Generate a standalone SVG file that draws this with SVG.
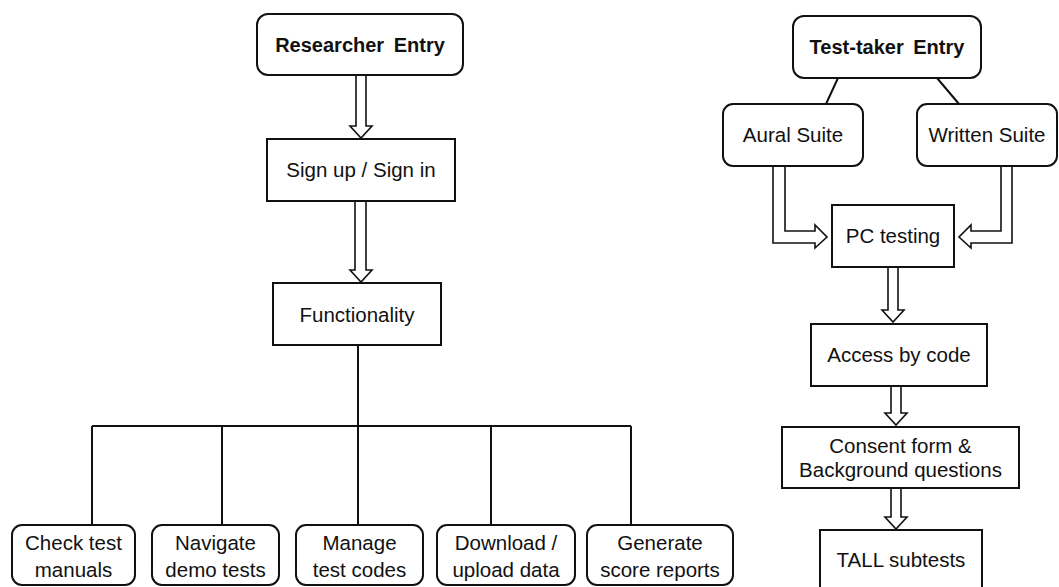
<svg xmlns="http://www.w3.org/2000/svg" width="1059" height="587" viewBox="0 0 1059 587">
<style>
.box{fill:#fff;stroke:#111;stroke-width:2}
.t{font-family:"Liberation Sans",Arial,sans-serif;font-size:20.5px;fill:#111;text-anchor:middle}
.b{font-weight:bold;font-size:20px;word-spacing:4px}
.ln{fill:none;stroke:#111;stroke-width:2}
.ar{fill:#fff;stroke:#111;stroke-width:1.6;stroke-linejoin:miter}
</style>
<rect width="1059" height="587" fill="#fff"/>
<g id="connectors">
<polygon class="ar" points="356,75 356,126 350,126 361,138 372,126 366,126 366,75"/>
<polygon class="ar" points="355,201 355,270 350,270 361,282 372,270 366,270 366,201"/>
<path class="ln" d="M358,345V426M92,426H631M92,426V525M222,426V525M358,426V525M491,426V525M631,426V525"/>
<path class="ln" d="M838,78L826,104M937,78L959,104"/>
<polygon class="ar" points="773,166 773,243 815,243 815,248 827,237 815,225 815,231 785,231 785,166"/>
<polygon class="ar" points="1012,166 1012,243 971,243 971,248 959,237 971,225 971,231 1001,231 1001,166"/>
<polygon class="ar" points="888,267 888,310 882,310 893,322 904,310 898,310 898,267"/>
<polygon class="ar" points="891,386 891,413 885,413 896,425 907,413 901,413 901,386"/>
<polygon class="ar" points="891,488 891,517 885,517 896,529 907,517 901,517 901,488"/>
</g>
<g id="researcher-entry"><rect class="box" x="257" y="14" width="206" height="61" rx="11"/><text class="t b" x="360" y="52">Researcher Entry</text></g>
<g id="sign-up"><rect class="box" x="267" y="139" width="188" height="62"/><text class="t" x="361" y="177">Sign up / Sign in</text></g>
<g id="functionality"><rect class="box" x="273" y="283" width="168" height="62"/><text class="t" x="357" y="322">Functionality</text></g>
<g id="check-manuals"><rect class="box" x="12" y="525" width="123" height="60" rx="10"/><text class="t" x="73.5" y="550">Check test</text><text class="t" x="73.5" y="577">manuals</text></g>
<g id="navigate-demo"><rect class="box" x="152" y="525" width="127" height="60" rx="10"/><text class="t" x="215.5" y="550">Navigate</text><text class="t" x="215.5" y="577">demo tests</text></g>
<g id="manage-codes"><rect class="box" x="296" y="525" width="127" height="60" rx="10"/><text class="t" x="359.5" y="550">Manage</text><text class="t" x="359.5" y="577">test codes</text></g>
<g id="download-upload"><rect class="box" x="437" y="525" width="138" height="60" rx="10"/><text class="t" x="506" y="550">Download /</text><text class="t" x="506" y="577">upload data</text></g>
<g id="generate-reports"><rect class="box" x="587" y="525" width="146" height="60" rx="10"/><text class="t" x="660" y="550">Generate</text><text class="t" x="660" y="577">score reports</text></g>
<g id="test-taker-entry"><rect class="box" x="793" y="16" width="188" height="62" rx="11"/><text class="t b" x="887" y="54">Test-taker Entry</text></g>
<g id="aural-suite"><rect class="box" x="723" y="104" width="140" height="62" rx="10"/><text class="t" x="793" y="142">Aural Suite</text></g>
<g id="written-suite"><rect class="box" x="917" y="104" width="140" height="62" rx="10"/><text class="t" x="987" y="142">Written Suite</text></g>
<g id="pc-testing"><rect class="box" x="832" y="205" width="122" height="62"/><text class="t" x="893" y="243">PC testing</text></g>
<g id="access-code"><rect class="box" x="811" y="324" width="176" height="62"/><text class="t" x="899" y="362">Access by code</text></g>
<g id="consent"><rect class="box" x="782" y="427" width="237" height="61"/><text class="t" x="900.5" y="453">Consent form &amp;</text><text class="t" x="900.5" y="477">Background questions</text></g>
<g id="tall-subtests"><rect class="box" x="820" y="530" width="162" height="62"/><text class="t" x="901" y="567">TALL subtests</text></g>
</svg>
